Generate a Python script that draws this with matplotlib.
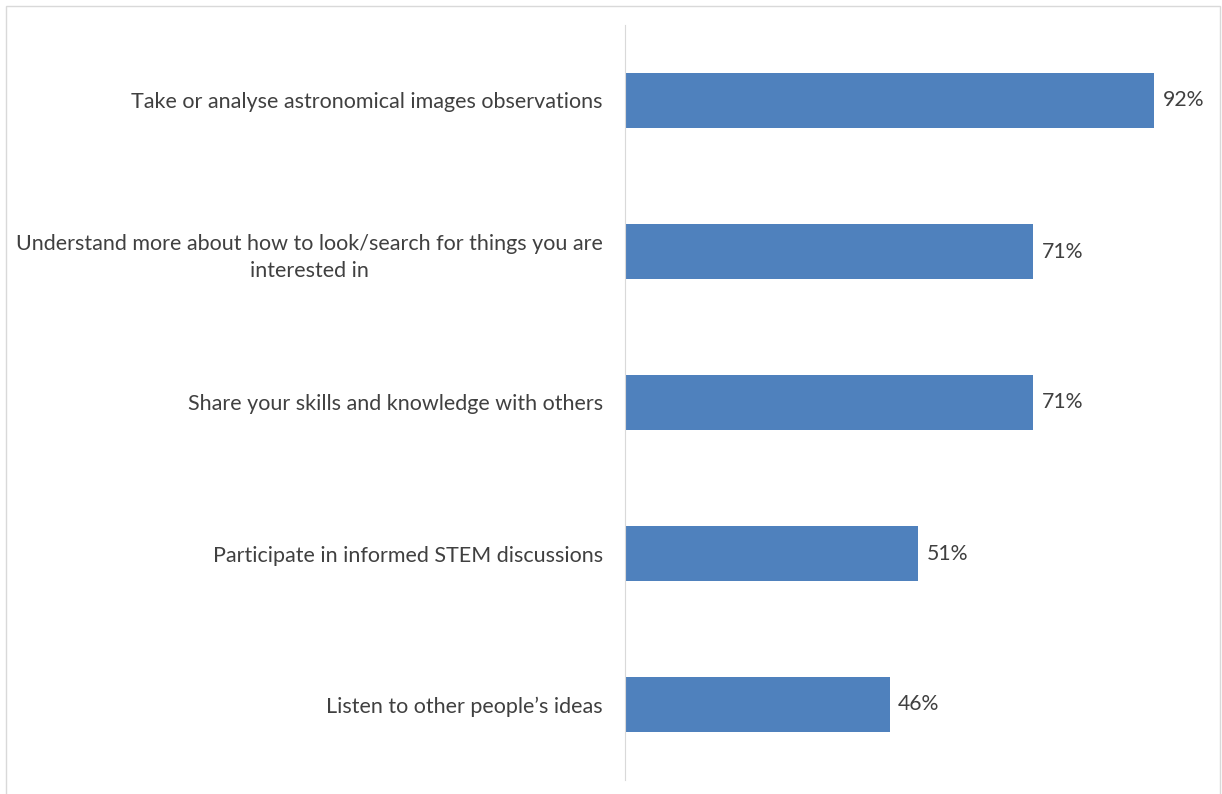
import matplotlib.pyplot as plt
from matplotlib.patches import Rectangle

# survey responses, top to bottom
labels = [
    "Take or analyse astronomical images observations",
    "Understand more about how to look/search for things you are\ninterested in",
    "Share your skills and knowledge with others",
    "Participate in informed STEM discussions",
    "Listen to other people\u2019s ideas",
]
values = [92, 71, 71, 51, 46]

plt.rcParams['font.family'] = ['Lato', 'DejaVu Sans']
txt_col = '#404040'

fig = plt.figure(figsize=(12.22, 7.94), dpi=100)
ax = fig.add_axes([625 / 1222, 14 / 794, 575 / 1222, 755 / 794])

ypos = list(range(len(values)))[::-1]
ax.barh(ypos, values, height=0.36, color='#4F81BD')
for y, v in zip(ypos, values):
    ax.text(v + 1.5, y, f'{v}%', va='center', ha='left', fontsize=15.3, color=txt_col)

ax.set_xlim(0, 100)
ax.set_ylim(-0.5, 4.5)
ax.set_yticks(ypos)
ax.set_yticklabels(labels, fontsize=15.5, color=txt_col, multialignment='center',
                   linespacing=1.45)
ax.tick_params(axis='y', length=0, pad=16)
ax.set_xticks([])
for s in ['top', 'right', 'bottom']:
    ax.spines[s].set_visible(False)
ax.spines['left'].set_color('#d9d9d9')

# chart frame
fig.patches.append(Rectangle((6 / 1222, -0.01), 1214 / 1222, 1 - 6 / 794 + 0.01,
                             transform=fig.transFigure, fill=False,
                             edgecolor='#d9d9d9', linewidth=1))

fig.savefig('out.png', dpi=100)
